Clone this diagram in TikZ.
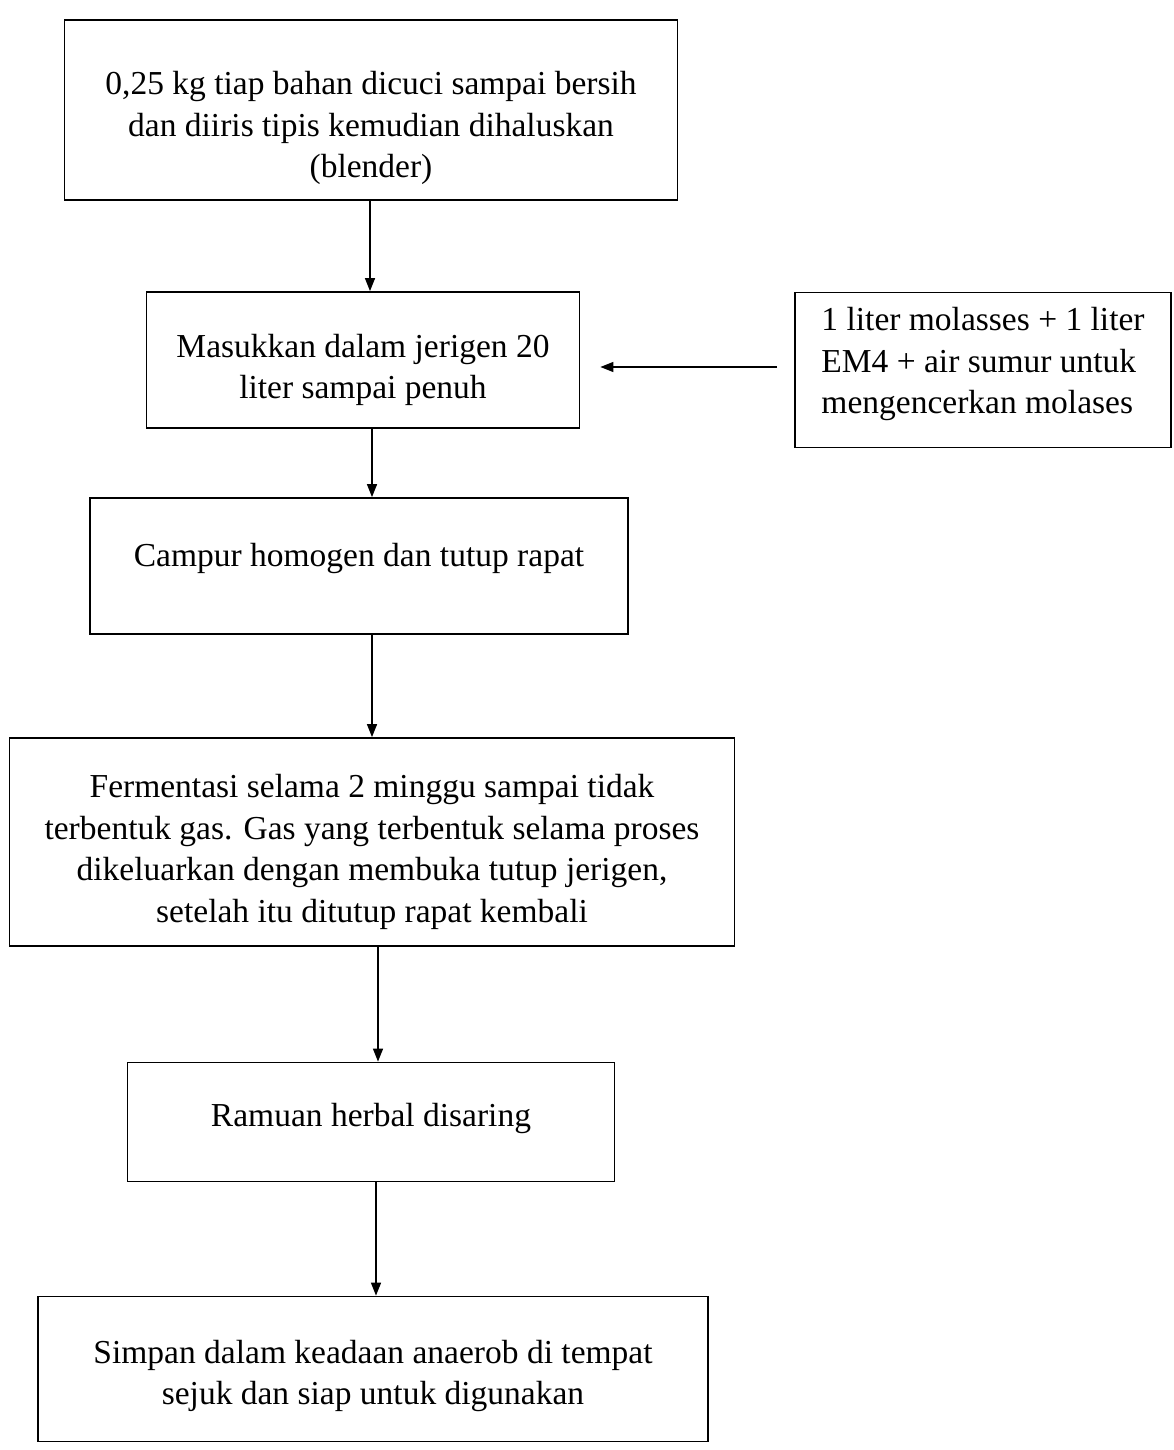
\documentclass[tikz,border=0pt]{standalone}
\usepackage{fontspec}
\setmainfont{Liberation Serif}
\usetikzlibrary{arrows.meta}
\begin{document}
\begin{tikzpicture}[x=1pt,y=-1pt,
  box/.style={draw,line width=1.8pt,inner sep=0pt},
  txt/.style={align=center,inner sep=0pt,font=\fontsize{33.5}{41.5}\selectfont},
  arr/.style={line width=1.5pt,-{Triangle[length=13pt,width=10pt]}}]
\useasboundingbox[fill=white] (0,0) rectangle (1173,1450);
\node[box,minimum width=613pt,minimum height=180pt,
  label={[txt,name=t1,yshift=-18pt]center:0,25 kg tiap bahan dicuci sampai bersih\\dan diiris tipis kemudian dihaluskan\\(blender)}] (b1) at (371,110) {};
\node[box,minimum width=433pt,minimum height=136pt,
  label={[txt,name=t2,yshift=-10pt]center:Masukkan dalam jerigen 20\\liter sampai penuh}] (b2) at (363,360) {};
\node[box,minimum width=376pt,minimum height=155pt,
  label={[txt,align=left,name=ts,yshift=6pt]center:1 liter molasses + 1 liter\\EM4 + air sumur untuk\\mengencerkan molases}] (s) at (983,370) {};
\node[box,minimum width=538pt,minimum height=136pt,
  label={[txt,name=t3,yshift=8pt]center:Campur homogen dan tutup rapat}] (b3) at (359,566) {};
\node[box,minimum width=725pt,minimum height=208pt,
  label={[txt,name=t4,yshift=-10pt]center:Fermentasi selama 2 minggu sampai tidak\\terbentuk gas. Gas yang terbentuk selama proses\\dikeluarkan dengan membuka tutup jerigen,\\setelah itu ditutup rapat kembali}] (b4) at (372,842) {};
\node[box,minimum width=487pt,minimum height=119pt,
  label={[txt,name=t5,yshift=4pt]center:Ramuan herbal disaring}] (b5) at (371,1122) {};
\node[box,minimum width=670pt,minimum height=145pt,
  label={[txt,name=t6,yshift=-7pt]center:Simpan dalam keadaan anaerob di tempat\\sejuk dan siap untuk digunakan}] (b6) at (373,1369) {};
\draw[arr] (b1.south -| 370,0) -- (b2.north -| 370,0);
\draw[arr] (b2.south -| 372,0) -- (b3.north -| 372,0);
\draw[arr] (b3.south -| 372,0) -- (b4.north -| 372,0);
\draw[arr] (b4.south -| 378,0) -- (b5.north -| 378,0);
\draw[arr] (b5.south -| 376,0) -- (b6.north -| 376,0);
\draw[arr,shorten <=17pt,shorten >=20pt] (s.west |- 0,367) -- (b2.east |- 0,367);
\end{tikzpicture}
\end{document}
